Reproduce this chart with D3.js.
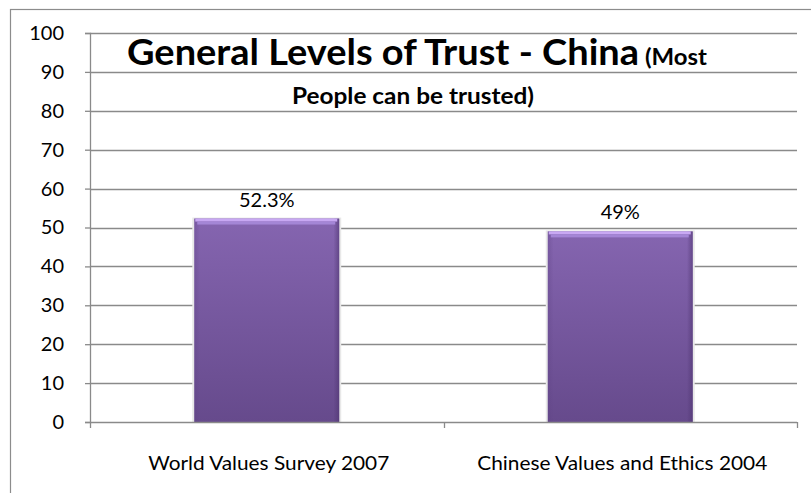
<!DOCTYPE html>
<html>
<head>
<meta charset="utf-8">
<script src="https://cdn.jsdelivr.net/npm/d3@7"></script>
<style>
  html, body { margin: 0; padding: 0; background: #fff; }
  svg { display: block; }
  text { font-family: Lato, "Open Sans", "Liberation Sans", sans-serif; fill: #000; }
</style>
</head>
<body>
<svg id="chart" width="811" height="493"></svg>
<script>
// ---- data ----
const categories = ["World Values Survey 2007", "Chinese Values and Ethics 2004"];
const values = [52.3, 49];
const valueLabels = ["52.3%", "49%"];
const yTicks = [0, 10, 20, 30, 40, 50, 60, 70, 80, 90, 100];
const titleMain = "General Levels of Trust - China";
const titleSmall = "(Most";
const titleLine2 = "People can be trusted)";

// ---- layout ----
const svg = d3.select("#chart");
const plot = { left: 90, right: 797, top: 33, bottom: 422 };

const x = d3.scaleBand()
  .domain(categories)
  .range([plot.left, plot.right])
  .paddingInner(0.59)
  .paddingOuter(0.295);

const y = d3.scaleLinear().domain([0, 100]).range([plot.bottom, plot.top]);

// outer chart border (cropped on right/bottom)
svg.append("rect")
  .attr("x", 10.5).attr("y", 9.5)
  .attr("width", 900).attr("height", 600)
  .attr("fill", "none").attr("stroke", "#8c8c8c").attr("stroke-width", 1.2);

// defs
const defs = svg.append("defs");
const grad = defs.append("linearGradient").attr("id", "barGrad")
  .attr("x1", 0).attr("y1", 0).attr("x2", 0).attr("y2", 1);
grad.append("stop").attr("offset", "0%").attr("stop-color", "#8565b0");
grad.append("stop").attr("offset", "100%").attr("stop-color", "#664a8c");

const sideGrad = defs.append("linearGradient").attr("id", "sideGrad")
  .attr("x1", 0).attr("y1", 0).attr("x2", 1).attr("y2", 0);
sideGrad.append("stop").attr("offset", "0%").attr("stop-color", "#5d4183").attr("stop-opacity", 0.35);
sideGrad.append("stop").attr("offset", "4%").attr("stop-color", "#5d4183").attr("stop-opacity", 0);
sideGrad.append("stop").attr("offset", "96%").attr("stop-color", "#4e3470").attr("stop-opacity", 0);
sideGrad.append("stop").attr("offset", "100%").attr("stop-color", "#4e3470").attr("stop-opacity", 0.6);

// gridlines
svg.append("g")
  .selectAll("line")
  .data(yTicks.filter(d => d > 0))
  .join("line")
  .attr("x1", plot.left).attr("x2", plot.right)
  .attr("y1", d => Math.round(y(d)) + 0.5).attr("y2", d => Math.round(y(d)) + 0.5)
  .attr("stroke", "#8a8a8a").attr("stroke-width", 1.3);

// y axis
const yAxis = d3.axisLeft(y).tickValues(yTicks).tickSize(5).tickPadding(21)
  .tickFormat(d3.format("d"));
const gy = svg.append("g").attr("transform", `translate(${plot.left},0)`).call(yAxis);
gy.select(".domain").attr("stroke", "#8a8a8a").attr("stroke-width", 1.3);
gy.selectAll(".tick line").attr("stroke", "#8a8a8a").attr("stroke-width", 1.3);
gy.selectAll(".tick text").attr("font-size", 20).attr("font-family", "Lato, 'Open Sans', sans-serif").attr("fill", "#000");

// bars
const bars = svg.append("g").selectAll("g.bar")
  .data(categories.map((c, i) => ({ c, v: values[i], label: valueLabels[i] })))
  .join("g").attr("class", "bar");

// soft shadow
bars.append("rect")
  .attr("x", d => x(d.c) - 2).attr("y", d => y(d.v) - 1)
  .attr("width", x.bandwidth() + 4).attr("height", d => plot.bottom - y(d.v) + 1)
  .attr("fill", "#e8e8e8");

bars.append("rect")
  .attr("x", d => x(d.c)).attr("y", d => y(d.v))
  .attr("width", x.bandwidth()).attr("height", d => plot.bottom - y(d.v))
  .attr("fill", "url(#barGrad)");

bars.append("rect")
  .attr("x", d => x(d.c)).attr("y", d => y(d.v))
  .attr("width", x.bandwidth()).attr("height", d => plot.bottom - y(d.v))
  .attr("fill", "url(#sideGrad)");

// top bevel
bars.append("rect")
  .attr("x", d => x(d.c) + 1).attr("y", d => y(d.v))
  .attr("width", x.bandwidth() - 3).attr("height", 3)
  .attr("fill", "#c8a8f3");
bars.append("rect")
  .attr("x", d => x(d.c) + 3).attr("y", d => y(d.v) + 3)
  .attr("width", x.bandwidth() - 7).attr("height", 3)
  .attr("fill", "#a486d6");

// value labels
bars.append("text")
  .attr("x", d => x(d.c) + x.bandwidth() / 2)
  .attr("y", d => y(d.v) - 12)
  .attr("text-anchor", "middle")
  .attr("font-size", 20)
  .text(d => d.label);

// x axis
const xAxisLine = svg.append("g");
xAxisLine.append("line")
  .attr("x1", plot.left).attr("x2", plot.right)
  .attr("y1", plot.bottom + 0.5).attr("y2", plot.bottom + 0.5)
  .attr("stroke", "#8a8a8a").attr("stroke-width", 1.5);
const boundaries = [plot.left, plot.left + x.step() * (x.paddingOuter() + 1 - x.paddingInner() / 2), plot.right];
xAxisLine.selectAll("line.tk")
  .data(boundaries)
  .join("line").attr("class", "tk")
  .attr("x1", d => Math.round(d) + 0.5).attr("x2", d => Math.round(d) + 0.5)
  .attr("y1", plot.bottom).attr("y2", plot.bottom + 6)
  .attr("stroke", "#8a8a8a").attr("stroke-width", 1.3);

const catWidths = [241, 290];
svg.append("g").selectAll("text")
  .data(categories)
  .join("text")
  .attr("x", d => x(d) + x.bandwidth() / 2 + 2)
  .attr("y", 470)
  .attr("text-anchor", "middle")
  .attr("font-size", 20)
  .attr("textLength", (d, i) => catWidths[i])
  .attr("lengthAdjust", "spacingAndGlyphs")
  .text(d => d);

// title
svg.append("text")
  .attr("x", 127).attr("y", 65)
  .attr("font-weight", "bold")
  .attr("font-size", 37)
  .attr("textLength", 512)
  .attr("lengthAdjust", "spacingAndGlyphs")
  .text(titleMain);
svg.append("text")
  .attr("x", 645).attr("y", 65)
  .attr("font-weight", "bold")
  .attr("font-size", 22.5)
  .attr("textLength", 62)
  .attr("lengthAdjust", "spacingAndGlyphs")
  .text(titleSmall);

svg.append("text")
  .attr("x", 292).attr("y", 104)
  .attr("font-weight", "bold")
  .attr("font-size", 22.5)
  .attr("textLength", 242)
  .attr("lengthAdjust", "spacingAndGlyphs")
  .text(titleLine2);
</script>
</body>
</html>
